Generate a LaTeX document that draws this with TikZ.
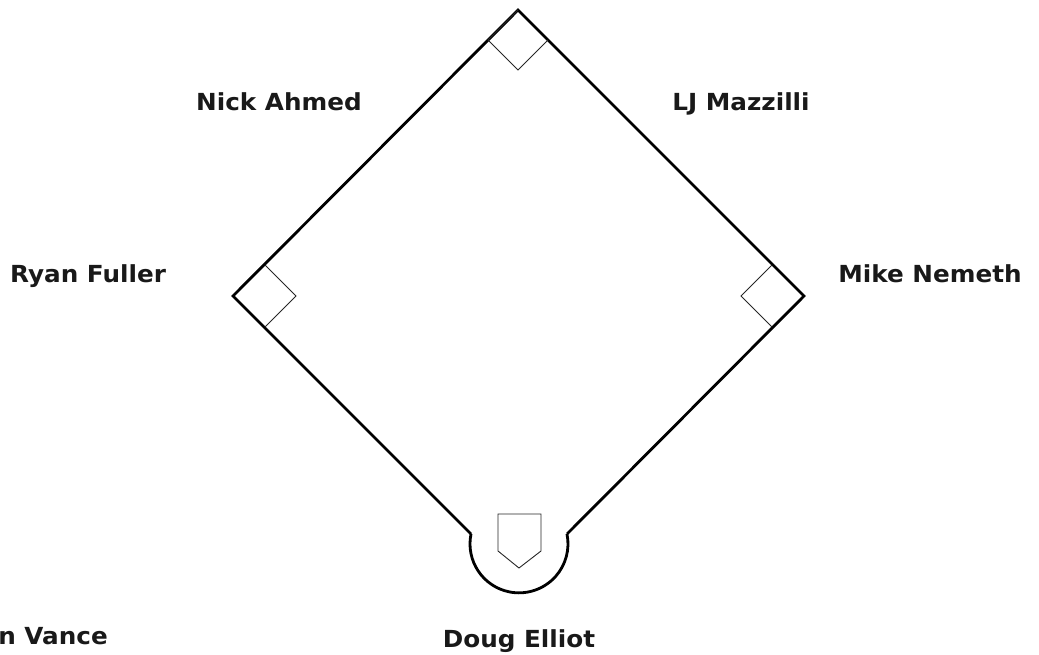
\documentclass[tikz,border=0pt]{standalone}
\usepackage{fontspec}
\setmainfont{DejaVu Sans}[FakeStretch=1.05]
\begin{document}
\begin{tikzpicture}[x=1pt,y=-1pt,
  field/.style={line width=2.8pt,line join=miter},
  basebox/.style={line width=0.9pt,draw=black!85},
  player/.style={font=\bfseries\fontsize{23.5}{25}\selectfont,text=black!90,inner sep=0pt,anchor=base}]
\useasboundingbox (0,0) rectangle (1039,655);
\clip (0,0) rectangle (1039,655);
% corners
\coordinate (second) at (518,10);
\coordinate (third) at (233,296);
\coordinate (first) at (804,296);
\coordinate (hl) at (471,534);
\coordinate (hr) at (567,534);
% base paths and home circle
\draw[field] (hl) -- (third) -- (second) -- (first) -- (hr);
\draw[field] (hl) arc[start angle=191.6,end angle=-11.6,radius=49];
% bases
\draw[basebox] (second) -- ++(-30,30) -- ++(30,30) -- ++(30,-30);
\draw[basebox] (third) ++(32,-31) -- ++(31,31) -- ++(-31,31);
\draw[basebox] (first) ++(-32,-31) -- ++(-31,31) -- ++(31,31);
% home plate
\draw[basebox] (498,514) -- (541,514) -- (541,551) -- (519,568) -- (498,551) -- cycle;
% players
\node[player] (ss) at (279,111) {Nick Ahmed};
\node[player] (b2) at (741,111) {LJ Mazzilli};
\node[player] (b3) at (88,283) {Ryan Fuller};
\node[player] (b1) at (930,283) {Mike Nemeth};
\node[player] (c) at (519,647) {Doug Elliot};
\node[player,anchor=base east] (p) at (108,644) {n Vance};
\end{tikzpicture}
\end{document}
